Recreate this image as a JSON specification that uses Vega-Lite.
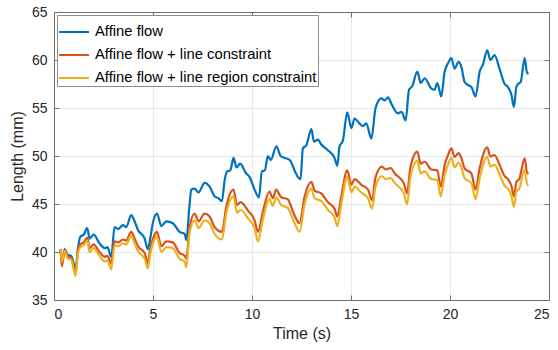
{
  "$schema": "https://vega.github.io/schema/vega-lite/v6.json",
  "width": 495,
  "height": 288,
  "autosize": "none",
  "padding": {"left": 54, "top": 12, "right": 9, "bottom": 50},
  "background": "white",
  "datasets": {
    "blue": [
      {"t":0.33,"v":40.3},{"t":0.40,"v":38.9},{"t":0.54,"v":40.3},{"t":0.70,"v":39.7},{"t":0.87,"v":39.6},{"t":1.09,"v":38.2},{"t":1.21,"v":40.4},{"t":1.33,"v":41.6},{"t":1.50,"v":41.8},{"t":1.68,"v":42.5},{"t":1.80,"v":41.4},{"t":2.00,"v":41.8},{"t":2.30,"v":40.9},{"t":2.56,"v":40.4},{"t":2.70,"v":40.5},{"t":2.89,"v":39.5},{"t":3.06,"v":42.6},{"t":3.25,"v":42.4},{"t":3.48,"v":42.8},{"t":3.65,"v":42.6},{"t":3.90,"v":43.85},{"t":4.07,"v":43.2},{"t":4.24,"v":42.3},{"t":4.58,"v":41.4},{"t":4.74,"v":40.3},{"t":4.86,"v":41.4},{"t":5.00,"v":43.1},{"t":5.20,"v":44.0},{"t":5.42,"v":42.7},{"t":5.67,"v":43.2},{"t":6.00,"v":43.0},{"t":6.34,"v":42.1},{"t":6.60,"v":41.9},{"t":6.68,"v":41.25},{"t":6.85,"v":45.0},{"t":6.93,"v":46.5},{"t":7.10,"v":46.6},{"t":7.30,"v":46.2},{"t":7.61,"v":47.2},{"t":7.86,"v":46.8},{"t":8.11,"v":45.8},{"t":8.30,"v":45.6},{"t":8.48,"v":45.3},{"t":8.62,"v":47.5},{"t":8.75,"v":48.4},{"t":8.90,"v":48.5},{"t":9.07,"v":49.8},{"t":9.22,"v":48.8},{"t":9.40,"v":49.2},{"t":9.70,"v":48.2},{"t":9.88,"v":47.8},{"t":10.13,"v":46.5},{"t":10.35,"v":45.7},{"t":10.50,"v":48.4},{"t":10.65,"v":48.5},{"t":10.80,"v":50.0},{"t":10.95,"v":49.6},{"t":11.23,"v":51.0},{"t":11.45,"v":50.0},{"t":11.65,"v":49.8},{"t":11.90,"v":49.6},{"t":12.15,"v":48.5},{"t":12.32,"v":47.8},{"t":12.45,"v":47.6},{"t":12.57,"v":50.8},{"t":12.74,"v":51.1},{"t":13.00,"v":52.8},{"t":13.13,"v":51.5},{"t":13.33,"v":51.7},{"t":13.50,"v":51.2},{"t":13.83,"v":50.6},{"t":14.17,"v":49.8},{"t":14.31,"v":49.0},{"t":14.42,"v":51.0},{"t":14.59,"v":51.6},{"t":14.81,"v":54.55},{"t":15.02,"v":52.9},{"t":15.18,"v":53.9},{"t":15.43,"v":53.4},{"t":15.60,"v":53.1},{"t":15.77,"v":53.4},{"t":16.03,"v":51.8},{"t":16.24,"v":55.0},{"t":16.53,"v":56.0},{"t":16.70,"v":55.8},{"t":16.87,"v":56.1},{"t":17.05,"v":55.4},{"t":17.37,"v":54.45},{"t":17.55,"v":54.6},{"t":17.76,"v":53.7},{"t":17.93,"v":56.9},{"t":18.10,"v":57.3},{"t":18.35,"v":58.8},{"t":18.52,"v":57.6},{"t":18.72,"v":58.1},{"t":19.05,"v":57.05},{"t":19.22,"v":56.9},{"t":19.36,"v":57.6},{"t":19.56,"v":56.2},{"t":19.73,"v":58.8},{"t":19.90,"v":59.65},{"t":20.07,"v":60.2},{"t":20.23,"v":59.1},{"t":20.43,"v":59.8},{"t":20.57,"v":59.3},{"t":20.74,"v":57.7},{"t":20.90,"v":57.4},{"t":21.08,"v":57.2},{"t":21.29,"v":56.2},{"t":21.50,"v":58.8},{"t":21.66,"v":59.5},{"t":21.88,"v":61.0},{"t":22.04,"v":60.0},{"t":22.25,"v":60.5},{"t":22.50,"v":59.1},{"t":22.76,"v":57.5},{"t":22.92,"v":57.2},{"t":23.10,"v":56.4},{"t":23.23,"v":55.1},{"t":23.35,"v":57.2},{"t":23.50,"v":57.6},{"t":23.57,"v":57.7},{"t":23.77,"v":60.2},{"t":23.90,"v":58.6},{"t":23.97,"v":58.6}
    ],
    "ry": [
      {"t":0.33,"r":40.3,"y":40.3},{"t":0.40,"r":38.5,"y":39.0},{"t":0.54,"r":40.2,"y":40.1},{"t":0.70,"r":39.5,"y":39.3},{"t":0.87,"r":39.4,"y":39.2},{"t":1.09,"r":37.8,"y":37.5},{"t":1.21,"r":40.2,"y":39.9},{"t":1.33,"r":40.8,"y":40.5},{"t":1.50,"r":41.0,"y":40.7},{"t":1.68,"r":41.5,"y":41.2},{"t":1.80,"r":40.4,"y":40.0},{"t":2.00,"r":40.8,"y":40.4},{"t":2.30,"r":40.0,"y":39.6},{"t":2.56,"r":39.5,"y":39.0},{"t":2.70,"r":39.6,"y":39.1},{"t":2.89,"r":38.8,"y":38.2},{"t":3.06,"r":41.1,"y":40.7},{"t":3.25,"r":41.0,"y":40.6},{"t":3.48,"r":41.3,"y":40.9},{"t":3.65,"r":41.2,"y":40.8},{"t":3.90,"r":42.1,"y":41.7},{"t":4.07,"r":41.4,"y":40.9},{"t":4.24,"r":40.6,"y":40.1},{"t":4.58,"r":39.9,"y":39.3},{"t":4.74,"r":38.8,"y":38.3},{"t":4.86,"r":40.4,"y":39.8},{"t":5.00,"r":41.4,"y":40.9},{"t":5.20,"r":42.1,"y":41.6},{"t":5.42,"r":40.6,"y":40.0},{"t":5.67,"r":41.1,"y":40.5},{"t":6.00,"r":41.0,"y":40.4},{"t":6.34,"r":39.9,"y":39.3},{"t":6.60,"r":39.6,"y":39.0},{"t":6.68,"r":39.3,"y":38.4},{"t":6.85,"r":42.6,"y":42.0},{"t":7.10,"r":44.0,"y":43.3},{"t":7.30,"r":43.2,"y":42.5},{"t":7.61,"r":44.0,"y":43.3},{"t":7.86,"r":43.7,"y":43.0},{"t":8.11,"r":42.6,"y":41.9},{"t":8.48,"r":42.1,"y":41.3},{"t":8.70,"r":44.7,"y":44.0},{"t":9.07,"r":46.5,"y":45.8},{"t":9.24,"r":44.9,"y":44.1},{"t":9.42,"r":45.2,"y":44.4},{"t":9.80,"r":44.3,"y":43.5},{"t":10.13,"r":43.3,"y":42.5},{"t":10.30,"r":42.1,"y":41.1},{"t":10.55,"r":44.2,"y":43.4},{"t":10.88,"r":46.3,"y":45.5},{"t":11.05,"r":45.6,"y":44.8},{"t":11.22,"r":46.5,"y":45.7},{"t":11.47,"r":45.7,"y":44.9},{"t":11.80,"r":45.5,"y":44.6},{"t":12.15,"r":43.8,"y":43.0},{"t":12.40,"r":43.0,"y":42.1},{"t":12.66,"r":45.8,"y":45.0},{"t":13.00,"r":47.3,"y":46.6},{"t":13.16,"r":46.4,"y":45.6},{"t":13.50,"r":46.1,"y":45.3},{"t":13.83,"r":45.2,"y":44.4},{"t":14.17,"r":44.5,"y":43.6},{"t":14.31,"r":43.7,"y":42.7},{"t":14.51,"r":45.8,"y":45.0},{"t":14.81,"r":48.5,"y":47.8},{"t":15.02,"r":47.0,"y":46.2},{"t":15.18,"r":47.6,"y":46.8},{"t":15.52,"r":47.0,"y":46.2},{"t":15.86,"r":46.5,"y":45.6},{"t":16.06,"r":45.4,"y":44.5},{"t":16.24,"r":47.8,"y":46.8},{"t":16.56,"r":48.9,"y":47.9},{"t":16.75,"r":48.6,"y":47.6},{"t":17.00,"r":48.75,"y":47.7},{"t":17.20,"r":48.2,"y":47.2},{"t":17.67,"r":47.15,"y":46.1},{"t":17.83,"r":46.1,"y":44.95},{"t":18.00,"r":48.8,"y":47.8},{"t":18.35,"r":50.45,"y":49.5},{"t":18.52,"r":49.2,"y":48.2},{"t":18.72,"r":49.4,"y":48.4},{"t":19.05,"r":48.6,"y":47.6},{"t":19.36,"r":48.5,"y":47.5},{"t":19.53,"r":46.8,"y":45.8},{"t":19.73,"r":49.05,"y":48.0},{"t":19.90,"r":50.1,"y":49.1},{"t":20.07,"r":50.8,"y":49.8},{"t":20.23,"r":49.9,"y":48.8},{"t":20.43,"r":50.3,"y":49.3},{"t":20.57,"r":49.8,"y":48.8},{"t":20.74,"r":48.7,"y":47.7},{"t":21.08,"r":48.2,"y":47.2},{"t":21.29,"r":46.5,"y":45.5},{"t":21.50,"r":48.75,"y":47.7},{"t":21.88,"r":50.9,"y":49.9},{"t":22.04,"r":49.95,"y":48.9},{"t":22.25,"r":50.1,"y":49.1},{"t":22.50,"r":49.1,"y":48.1},{"t":22.76,"r":47.9,"y":46.9},{"t":22.92,"r":47.6,"y":46.6},{"t":23.10,"r":46.9,"y":45.9},{"t":23.23,"r":45.8,"y":44.7},{"t":23.35,"r":47.3,"y":46.3},{"t":23.50,"r":47.6,"y":46.6},{"t":23.77,"r":49.75,"y":48.6},{"t":23.90,"r":48.2,"y":47.0},{"t":23.97,"r":48.2,"y":47.0}
    ]
  },
  "config": {
    "font": "Liberation Sans",
    "view": {"stroke": null},
    "axis": {
      "domainColor": "#6e6e6e",
      "domainWidth": 1,
      "tickColor": "#6e6e6e",
      "tickSize": -5,
      "tickWidth": 1,
      "labelFontSize": 14,
      "labelColor": "#262626",
      "labelPadding": 12,
      "titleFontSize": 16,
      "titleFontWeight": "normal",
      "titleColor": "#262626",
      "gridColor": "#e8e8e8",
      "gridWidth": 1
    }
  },
  "layer": [
    {
      "data": {"name": "blue"},
      "transform": [{"calculate": "'Affine flow'", "as": "s"}],
      "mark": {"type": "line", "strokeWidth": 2.2, "interpolate": "monotone"},
      "encoding": {
        "x": {"field": "t", "type": "quantitative", "scale": {"domain": [0, 25], "nice": false}, "axis": {"title": "Time (s)", "values": [0,5,10,15,20,25], "titlePadding": 4}},
        "y": {"field": "v", "type": "quantitative", "scale": {"domain": [35, 65], "nice": false, "zero": false}, "axis": {"title": "Length (mm)", "values": [35,40,45,50,55,60,65], "titlePadding": 6}},
        "color": {"field": "s", "type": "nominal",
          "scale": {"domain": ["Affine flow", "Affine flow + line constraint", "Affine flow + line region constraint"], "range": ["#0072BD", "#D95319", "#EDB120"]},
          "legend": {"orient": "top-left", "offset": 3, "title": null, "fillColor": "white", "strokeColor": "#8c8c8c", "padding": 1, "symbolType": "stroke", "symbolStrokeWidth": 2, "symbolSize": 900, "labelFontSize": 14.8, "labelColor": "#000000", "labelLimit": 400, "rowPadding": -11, "labelOffset": 5}}
      }
    },
    {
      "data": {"name": "ry"},
      "transform": [{"fold": ["r", "y"], "as": ["k", "v"]}, {"calculate": "datum.k == 'r' ? 'Affine flow + line constraint' : 'Affine flow + line region constraint'", "as": "s"}],
      "mark": {"type": "line", "strokeWidth": 2.2, "interpolate": "monotone"},
      "encoding": {
        "x": {"field": "t", "type": "quantitative", "axis": null},
        "y": {"field": "v", "type": "quantitative", "axis": null},
        "color": {"field": "s", "type": "nominal"}
      }
    },
    {
      "data": {"name": "blue"},
      "mark": {"type": "line", "opacity": 0},
      "encoding": {
        "x": {"field": "t", "type": "quantitative", "axis": {"orient": "top", "labels": false, "title": null, "grid": false, "values": [0,5,10,15,20,25]}},
        "y": {"field": "v", "type": "quantitative", "axis": {"orient": "right", "labels": false, "title": null, "grid": false, "values": [35,40,45,50,55,60,65]}}
      }
    }
  ],
  "resolve": {"axis": {"x": "independent", "y": "independent"}}
}
